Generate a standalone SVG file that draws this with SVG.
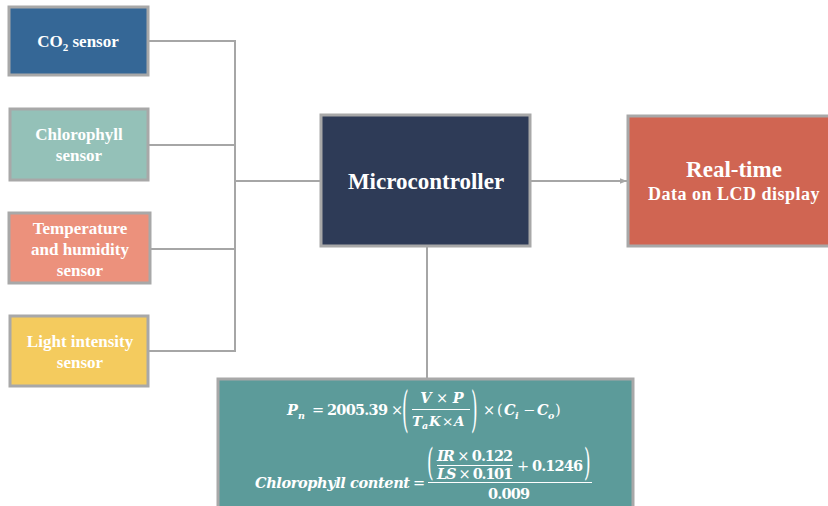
<svg xmlns="http://www.w3.org/2000/svg" width="828" height="506" viewBox="0 0 828 506">
<defs>
<marker id="arr" viewBox="0 0 10 10" refX="10" refY="5" markerWidth="7" markerHeight="7" orient="auto" markerUnits="userSpaceOnUse"><path d="M0,1 L10,5 L0,9 z" fill="#A6A6A6"/></marker>
</defs>
<style>
.box{stroke:#A8A8A8;stroke-width:3}
.lbl{font-family:"Liberation Serif",serif;font-weight:bold;fill:#FFFFFF;text-anchor:middle}
.con{fill:none;stroke:#A6A6A6;stroke-width:2}
.m{font-family:"DejaVu Serif",serif;font-weight:bold;fill:#FFFFFF;font-size:14.5px}
.d{font-size:13.5px}
.o{font-weight:normal}
.p{font-family:"DejaVu Serif",serif;font-weight:normal;fill:#FFFFFF;font-size:14px}
.i{font-style:italic}
.s{font-size:9.5px}
.fl{stroke:#FFFFFF;stroke-width:1}
</style>
<rect width="828" height="506" fill="#FFFFFF"/>
<g id="connectors">
<polyline class="con" points="148,41 235,41 235,351 148,351"/>
<line class="con" x1="148" y1="145" x2="235" y2="145"/>
<line class="con" x1="150" y1="249" x2="235" y2="249"/>
<line class="con" x1="235" y1="181" x2="321" y2="181"/>
<line class="con" x1="530" y1="181" x2="627" y2="181" marker-end="url(#arr)"/>
<line class="con" x1="427" y1="246" x2="427" y2="379"/>
</g>
<g id="co2">
<rect class="box" x="9" y="7" width="139" height="68" fill="#356796"/>
<text class="lbl" x="78" y="47" font-size="17">CO<tspan font-size="11" dy="4">2</tspan><tspan dy="-4"> sensor</tspan></text>
</g>
<g id="chlorophyll">
<rect class="box" x="10" y="109" width="138" height="71" fill="#94C1B8"/>
<text class="lbl" x="79" y="140" font-size="17">Chlorophyll</text>
<text class="lbl" x="79" y="161" font-size="17">sensor</text>
</g>
<g id="temperature">
<rect class="box" x="9" y="213" width="141" height="70" fill="#EC917C"/>
<text class="lbl" x="80" y="234" font-size="17">Temperature</text>
<text class="lbl" x="80" y="255" font-size="17">and humidity</text>
<text class="lbl" x="80" y="276" font-size="17">sensor</text>
</g>
<g id="light">
<rect class="box" x="10" y="316" width="138" height="70" fill="#F4CB5E"/>
<text class="lbl" x="80" y="347" font-size="17">Light intensity</text>
<text class="lbl" x="80" y="368" font-size="17">sensor</text>
</g>
<g id="microcontroller">
<rect class="box" x="321" y="115" width="209" height="131" fill="#2E3B57"/>
<text class="lbl" x="426" y="189" font-size="23">Microcontroller</text>
</g>
<g id="display">
<rect class="box" x="628" y="116" width="210" height="130" fill="#D06552"/>
<text class="lbl" x="734" y="177" font-size="23">Real-time</text>
<text class="lbl" x="734" y="200" font-size="18" letter-spacing="0.5">Data on LCD display</text>
</g>
<g id="formulas">
<rect class="box" x="218" y="379" width="415" height="140" fill="#5C9B9A"/>
<text class="m i" x="287" y="415">P</text>
<text class="m i s" x="298" y="419">n</text>
<text class="m o" x="312" y="415">=</text>
<text class="m" x="327" y="415" textLength="61" lengthAdjust="spacing">2005.39</text>
<text class="m o" x="391" y="415">×</text>
<text class="p" transform="translate(402,426) scale(1.2,3.4)">(</text>
<text class="m" x="442" y="403" text-anchor="middle"><tspan class="i">V</tspan><tspan class="o"> × </tspan><tspan class="i">P</tspan></text>
<line class="fl" x1="412" y1="409.5" x2="470" y2="409.5"/>
<text class="m d i" x="412" y="426">T</text>
<text class="m i s" x="422" y="429">a</text>
<text class="m d i" x="429" y="426">K</text>
<text class="m d o" x="442" y="426">×</text>
<text class="m d i" x="454" y="426">A</text>
<text class="p" transform="translate(471,426) scale(1.2,3.4)">)</text>
<text class="m o" x="483" y="415">×</text>
<text class="m o" x="497" y="415">(</text>
<text class="m i" x="504" y="415">C</text>
<text class="m i s" x="515" y="419">i</text>
<text class="m o" x="523" y="415">−</text>
<text class="m i" x="537" y="415">C</text>
<text class="m i s" x="548" y="419">o</text>
<text class="m o" x="555" y="415">)</text>
<text class="m i" x="255" y="488" textLength="155" lengthAdjust="spacing">Chlorophyll content</text>
<text class="m o" x="413" y="488">=</text>
<line class="fl" x1="428" y1="482.5" x2="592" y2="482.5"/>
<text class="p" transform="translate(427,475) scale(1.2,2.65)">(</text>
<text class="m" x="437" y="461" textLength="76" lengthAdjust="spacing"><tspan class="i">IR</tspan><tspan class="o"> × </tspan>0.122</text>
<line class="fl" x1="437" y1="465.5" x2="513" y2="465.5"/>
<text class="m" x="437" y="478.5" textLength="76" lengthAdjust="spacing"><tspan class="i">LS</tspan><tspan class="o"> × </tspan>0.101</text>
<text class="m" x="517" y="471" textLength="66" lengthAdjust="spacing"><tspan class="o">+ </tspan>0.1246</text>
<text class="p" transform="translate(584,475) scale(1.2,2.65)">)</text>
<text class="m" x="488" y="499" textLength="42" lengthAdjust="spacing">0.009</text>
</g>
</svg>
